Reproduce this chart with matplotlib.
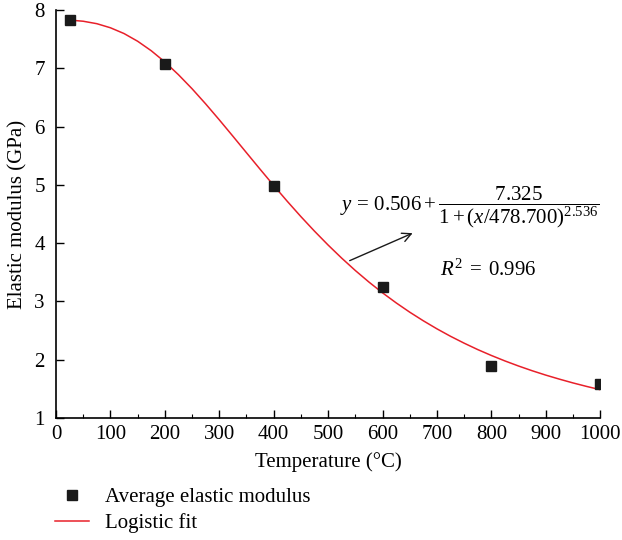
import numpy as np
import matplotlib
matplotlib.use('Agg')
import matplotlib.pyplot as plt
from matplotlib.ticker import MultipleLocator

plt.rcParams['font.family'] = ['Liberation Serif', 'DejaVu Serif']
plt.rcParams['mathtext.fontset'] = 'custom'
plt.rcParams['mathtext.rm'] = 'Liberation Serif'
plt.rcParams['mathtext.it'] = 'Liberation Serif:italic'

# measured points
temperature = [25, 200, 400, 600, 800, 1000]
modulus = [7.83, 7.08, 4.98, 3.25, 1.90, 1.58]

# logistic fit curve
fit_temp = [25, 50, 75, 100, 125, 150, 175, 200, 225, 250, 275, 300, 325, 350, 375,
            400, 425, 450, 475, 500, 525, 550, 575, 600, 625, 650, 675, 700, 725,
            750, 775, 800, 825, 850, 875, 900, 925, 950, 975, 1000]
fit_modulus = [7.827, 7.807, 7.765, 7.695, 7.596, 7.464, 7.301, 7.109, 6.890, 6.649,
               6.389, 6.116, 5.835, 5.551, 5.268, 4.989, 4.717, 4.455, 4.205, 3.967,
               3.742, 3.530, 3.332, 3.147, 2.975, 2.815, 2.667, 2.529, 2.401, 2.283,
               2.173, 2.072, 1.978, 1.891, 1.810, 1.735, 1.666, 1.601, 1.541, 1.485]

fig = plt.figure(figsize=(6.22, 5.40), dpi=100)
ax = fig.add_axes([0.090, 0.226, 0.875, 0.7555])

ax.plot(fit_temp, fit_modulus, color='#e8202a', lw=1.1, label='Logistic fit', zorder=2)
ax.plot(temperature, modulus, ls='none', marker='s', ms=7, color='#1a1a1a',
        label='Average elastic modulus', zorder=3)

ax.set_xlim(0, 1000)
ax.set_ylim(1, 8)
ax.xaxis.set_major_locator(MultipleLocator(100))
ax.xaxis.set_minor_locator(MultipleLocator(50))
ax.yaxis.set_major_locator(MultipleLocator(1))
ax.tick_params(which='major', direction='in', length=6, width=1, labelsize=15, pad=5)
ax.tick_params(which='minor', direction='in', length=3, width=0.8)
ax.tick_params(axis='y', pad=8)
for s in ['top', 'right']:
    ax.spines[s].set_visible(False)
for s in ['left', 'bottom']:
    ax.spines[s].set_linewidth(1.2)

ax.set_xlabel('Temperature (°C)', fontsize=15, labelpad=6)
ax.set_ylabel('Elastic modulus (GPa)', fontsize=15, labelpad=5)

ax.text(522, 4.61, r'$y\,=\,0.506+\dfrac{7.325}{1+(x/478.700)^{2.536}}$',
        fontsize=15, va='center', ha='left')
ax.text(706, 3.54, r'$R^2\;=\;0.996$', fontsize=15, va='center', ha='left')
ax.annotate('', xy=(660, 4.19), xytext=(535, 3.68),
            arrowprops=dict(arrowstyle='->', color='#1a1a1a', lw=1.0, mutation_scale=16))

handles, labels = ax.get_legend_handles_labels()
fig.legend(handles[::-1], labels[::-1], loc='upper left', bbox_to_anchor=(0.088, 0.097),
           frameon=False, fontsize=15, handlelength=1.65, handletextpad=0.75,
           labelspacing=0.3, borderaxespad=0, borderpad=0)

fig.savefig('out.png', dpi=100)
